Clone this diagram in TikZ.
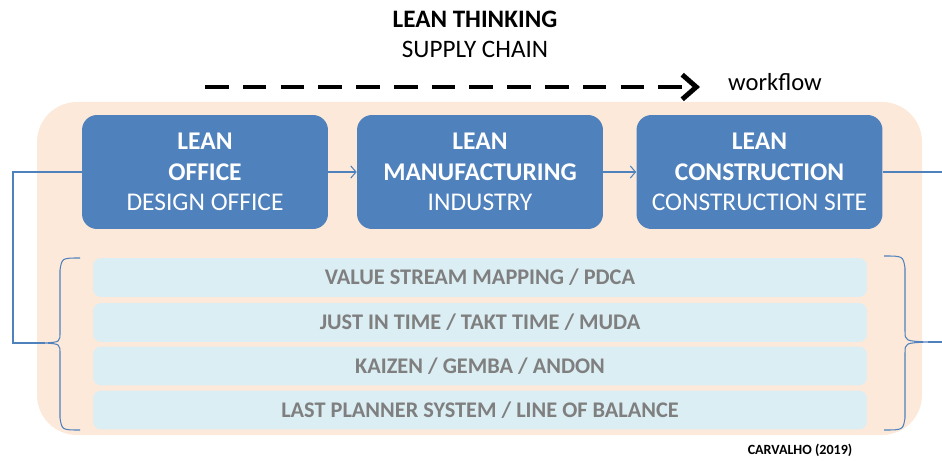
\documentclass[tikz,border=0pt]{standalone}
\usepackage{fontspec}
\setmainfont{Carlito}
\usetikzlibrary{arrows.meta}

\begin{document}
\begin{tikzpicture}[x=0.02cm,y=0.02cm,
  phase/.style={fill=leanblue, rounded corners=0.3cm, text=white, minimum width=4.92cm,
    minimum height=2.28cm, align=center, font=\fontsize{14.5}{17.5}\selectfont},
  tool/.style={fill=toolblue, rounded corners=0.16cm, text=toolgray, minimum width=15.48cm,
    minimum height=0.78cm, font=\bfseries\fontsize{12.7}{14}\selectfont},
  link/.style={draw=leanblue, line width=0.6pt}
]

% Colors
\definecolor{leanblue}{RGB}{79,129,189}
\definecolor{toolblue}{RGB}{219,238,244}
\definecolor{toolgray}{RGB}{127,127,127}
\definecolor{peach}{RGB}{253,233,217}

\useasboundingbox (0,0) rectangle (942,460);

% Title
\node (title) at (475,441) {\fontsize{14.3}{17}\selectfont\bfseries LEAN THINKING};
\node (chain) at (475,411) {\fontsize{14.3}{17}\selectfont SUPPLY CHAIN};

% Workflow arrow
\coordinate (flowa) at (205,373);
\coordinate (flowb) at (700,373);
\draw[line width=2.8pt, dash pattern=on 13.5pt off 8pt, -{Straight Barb[length=8pt,width=14pt]}] (flowa) -- (flowb);
\node[anchor=west, font=\fontsize{14}{17}\selectfont] (flow) at (722,378) {workflow};

% Background
\fill[peach, rounded corners=0.8cm] (37,25) rectangle (922,358);

% Phases
\node[phase] (office) at (205,288) {\textbf{LEAN}\\\textbf{OFFICE}\\DESIGN OFFICE};
\node[phase] (manuf) at (480,288) {\textbf{LEAN}\\\textbf{MANUFACTURING}\\INDUSTRY};
\node[phase] (constr) at (759.5,288) {\textbf{LEAN}\\\textbf{CONSTRUCTION}\\CONSTRUCTION SITE};

\draw[link, -{Straight Barb[length=3pt,width=7pt]}] (office) -- (manuf);
\draw[link, -{Straight Barb[length=3pt,width=7pt]}] (manuf) -- (constr);

% Tools
\node[tool] (vsm) at (480,182.5) {VALUE STREAM MAPPING / PDCA};
\node[tool] (jit) at (480,137.5) {JUST IN TIME / TAKT TIME / MUDA};
\node[tool] (kaizen) at (480,94) {KAIZEN / GEMBA / ANDON};
\node[tool] (lps) at (480,50) {LAST PLANNER SYSTEM / LINE OF BALANCE};

% Braces
\coordinate (ltop) at (80,202);
\coordinate (lbot) at (80,30);
\coordinate (ltip) at (45,117);
\coordinate (rtop) at (884,204);
\coordinate (rbot) at (884,30);
\coordinate (rtip) at (928,118);
\draw[link] (ltop) .. controls (62,202) .. (60,190) -- (60,128)
  .. controls (60,118) .. (ltip) .. controls (60,116) .. (60,106)
  -- (60,42) .. controls (62,30) .. (lbot);
\draw[link] (rtop) .. controls (903,204) .. (905,192) -- (905,129)
  .. controls (905,119) .. (rtip) .. controls (905,117) .. (905,107)
  -- (905,42) .. controls (903,30) .. (rbot);

% Links
\coordinate (lout) at (13,288);
\coordinate (rout) at (942,288);
\coordinate (rend) at (942,118);
\draw[link] (office.west) -- (lout) |- (ltip);
\draw[link] (constr.east) -- (rout);
\draw[link] (rtip) -- (rend);

% Source
\node[font=\bfseries\fontsize{8}{10}\selectfont] (src) at (800,10) {CARVALHO (2019)};

\end{tikzpicture}
\end{document}
